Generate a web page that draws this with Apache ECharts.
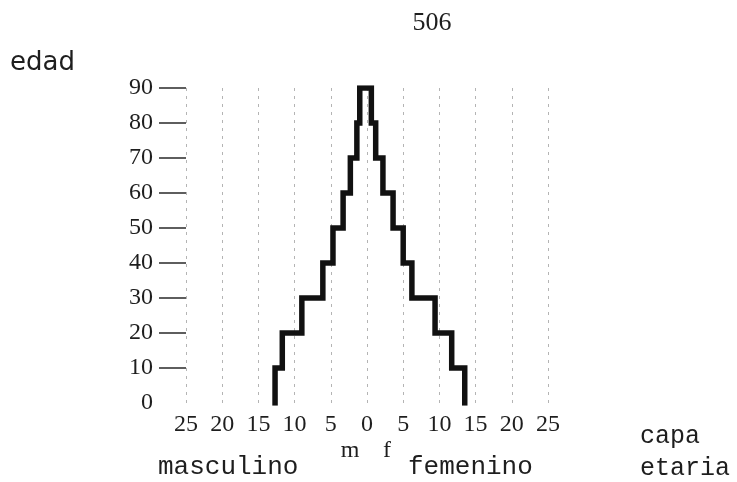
<!DOCTYPE html>
<html>
<head>
<meta charset="utf-8">
<script src="https://cdn.jsdelivr.net/npm/echarts@6/dist/echarts.min.js"></script>
<style>
  html, body { margin: 0; padding: 0; background: #fff; }
  #chart { width: 737px; height: 482px; }
</style>
</head>
<body>
<div id="chart"></div>
<script>
// Age bands (lower bound of each 10-year group) and the height of one band
const ageStarts = [0, 10, 20, 30, 40, 50, 60, 70, 80];
const bandWidth = 10;
// Share of population per age band: masculino drawn to the left, femenino to the right
const masculino = [12.7, 11.7, 9.0, 6.1, 4.7, 3.3, 2.3, 1.4, 1.0];
const femenino  = [13.5, 11.7, 9.4, 6.2, 5.0, 3.6, 2.2, 1.2, 0.6];
// Tick values
const xTicks = [-25, -20, -15, -10, -5, 0, 5, 10, 15, 20, 25];
const yTicks = [0, 10, 20, 30, 40, 50, 60, 70, 80, 90];

// Outline of the pyramid as one stepped path: up the male side, down the female side
const outline = [];
for (let i = 0; i < ageStarts.length; i++) {
  outline.push([-masculino[i], ageStarts[i]]);
  outline.push([-masculino[i], ageStarts[i] + bandWidth]);
}
for (let i = ageStarts.length - 1; i >= 0; i--) {
  outline.push([femenino[i], ageStarts[i] + bandWidth]);
  outline.push([femenino[i], ageStarts[i]]);
}

const serif = '"Liberation Serif", "Times New Roman", serif';
const slab = '"Liberation Mono", "Courier New", monospace';
const ink = '#1e1e1e';

function label(text, x, y, font, align) {
  return {
    type: 'text', x: x, y: y, silent: true,
    style: { text: text, font: font, fill: ink, textAlign: align || 'left', textVerticalAlign: 'middle' }
  };
}

const chart = echarts.init(document.getElementById('chart'), null, { renderer: 'canvas' });
chart.setOption({
  animation: false,
  backgroundColor: '#fff',
  grid: { left: 186, right: 189, top: 88, bottom: 79, containLabel: false },
  xAxis: {
    type: 'value', min: -25, max: 25, interval: 5,
    axisLine: { show: false, onZero: false },
    axisTick: { show: false },
    splitLine: { show: true, lineStyle: { color: '#b4b4b4', width: 1, type: [3, 5] } },
    axisLabel: {
      customValues: xTicks,
      formatter: v => String(Math.abs(v)),
      fontFamily: serif, fontSize: 24, color: ink, margin: 10
    }
  },
  yAxis: {
    type: 'value', min: 0, max: 90, interval: 10,
    axisLine: { show: false, onZero: false },
    axisTick: { show: true, customValues: yTicks.slice(1), length: 27, lineStyle: { color: '#2a2a2a', width: 1.5 } },
    splitLine: { show: false },
    axisLabel: { customValues: yTicks, fontFamily: serif, fontSize: 24, color: ink, margin: 33 }
  },
  series: [{
    type: 'line',
    data: outline,
    showSymbol: false,
    symbol: 'none',
    lineStyle: { color: '#111', width: 5.5, join: 'miter', cap: 'square' },
    z: 5
  }],
  graphic: [
    label('506', 432, 23, '26px ' + serif, 'center'),
    label('edad', 10, 63, '26px "DejaVu Sans", sans-serif'),
    label('m', 350, 451, '24px ' + serif, 'center'),
    label('f', 387, 451, '24px ' + serif, 'center'),
    label('masculino', 158, 467, '26px ' + slab),
    label('femenino', 408, 467, '26px ' + slab),
    label('capa', 640, 436, '25px ' + slab),
    label('etaria', 640, 468, '25px ' + slab)
  ]
});
</script>
</body>
</html>
